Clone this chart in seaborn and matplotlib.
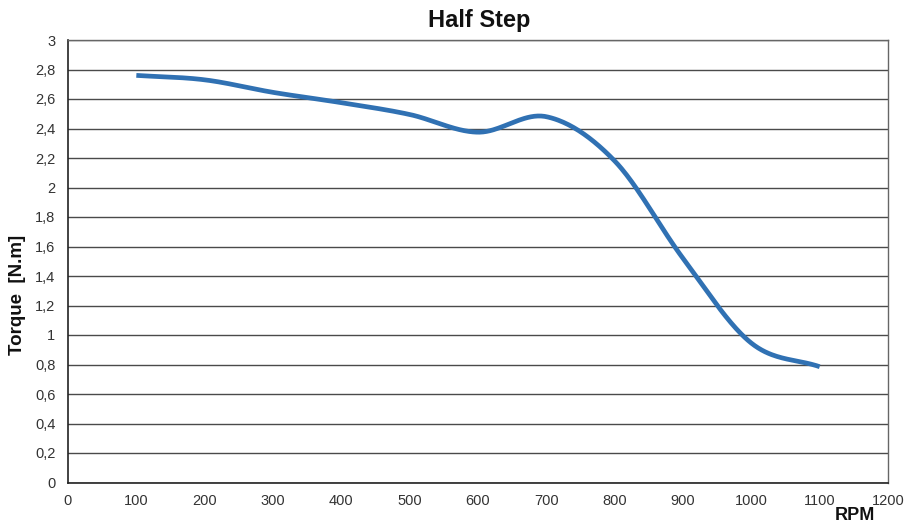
import numpy as np
import pandas as pd
import matplotlib
matplotlib.use("Agg")
import matplotlib.pyplot as plt
import seaborn as sns

rpm = [100, 200, 300, 400, 500, 600, 700, 800, 900, 1000, 1100]
torque = [2.76, 2.73, 2.645, 2.575, 2.495, 2.375, 2.48, 2.18, 1.52, 0.945, 0.785]
x_ticks = list(range(0, 1201, 100))
y_ticks = [round(v * 0.2, 1) for v in range(16)]


def smooth(xs, ys, n=40):
    # Catmull-Rom rendering of the smoothed line (like a spreadsheet "smoothed line")
    xs = np.asarray(xs, float)
    ys = np.asarray(ys, float)
    px = np.concatenate([[2 * xs[0] - xs[1]], xs, [2 * xs[-1] - xs[-2]]])
    py = np.concatenate([[2 * ys[0] - ys[1]], ys, [2 * ys[-1] - ys[-2]]])
    ox, oy = [], []
    for i in range(1, len(px) - 2):
        t = np.linspace(0, 1, n, endpoint=False)
        for p, o in ((px, ox), (py, oy)):
            p0, p1, p2, p3 = p[i - 1], p[i], p[i + 1], p[i + 2]
            c1 = p1 + (p2 - p0) / 6
            c2 = p2 - (p3 - p1) / 6
            o.extend((1 - t) ** 3 * p1 + 3 * (1 - t) ** 2 * t * c1 + 3 * (1 - t) * t ** 2 * c2 + t ** 3 * p2)
    ox.append(xs[-1])
    oy.append(ys[-1])
    return np.array(ox), np.array(oy)


sx, sy = smooth(rpm, torque)
df = pd.DataFrame({"RPM": sx, "Torque": sy})

sns.set_theme(style="white")
plt.rcParams["font.family"] = ["Liberation Sans", "DejaVu Sans"]

fig = plt.figure(figsize=(9.08, 5.26), dpi=100)
ax = fig.add_axes([68 / 908, 1 - 482.5 / 526, 820 / 908, 442.5 / 526])

sns.lineplot(data=df, x="RPM", y="Torque", ax=ax, color="#3071b3", linewidth=3.4,
             sort=False, estimator=None, solid_capstyle="butt")

ax.set_xlim(0, 1200)
ax.set_ylim(0, 3)
ax.set_xticks(x_ticks)
ax.set_yticks(y_ticks)
ax.set_xticklabels([str(v) for v in x_ticks])
ax.set_yticklabels([("%g" % v).replace(".", ",") for v in y_ticks])
ax.yaxis.grid(True, color="#4a4a4a", linewidth=1)
ax.xaxis.grid(False)
ax.set_axisbelow(True)
ax.tick_params(axis="both", direction="in", length=4, width=1, color="#333333",
               labelsize=10.5, labelcolor="#333333")
ax.tick_params(axis="x", pad=8)
ax.tick_params(axis="y", length=0, pad=9)
for s in ["left", "bottom"]:
    ax.spines[s].set_color("#222222")
    ax.spines[s].set_linewidth(1.2)
ax.spines["right"].set_color("#666666")
ax.spines["right"].set_linewidth(1)
ax.spines["top"].set_color("#666666")
ax.spines["top"].set_linewidth(1)

ax.set_xlabel("")
ax.set_ylabel("")
fig.text(479 / 908, 1 - 21 / 526, "Half Step", ha="center", va="center",
         fontsize=17, fontweight="bold", color="#111111")
fig.text(18 / 908, 1 - 295 / 526, "Torque  [N.m]", ha="center", va="center",
         rotation=90, fontsize=13.5, fontweight="bold", color="#111111")
fig.text(855 / 908, 1 - 516 / 526, "RPM", ha="center", va="center",
         fontsize=13, fontweight="bold", color="#111111")

fig.savefig("out.png", dpi=100, facecolor="white")
